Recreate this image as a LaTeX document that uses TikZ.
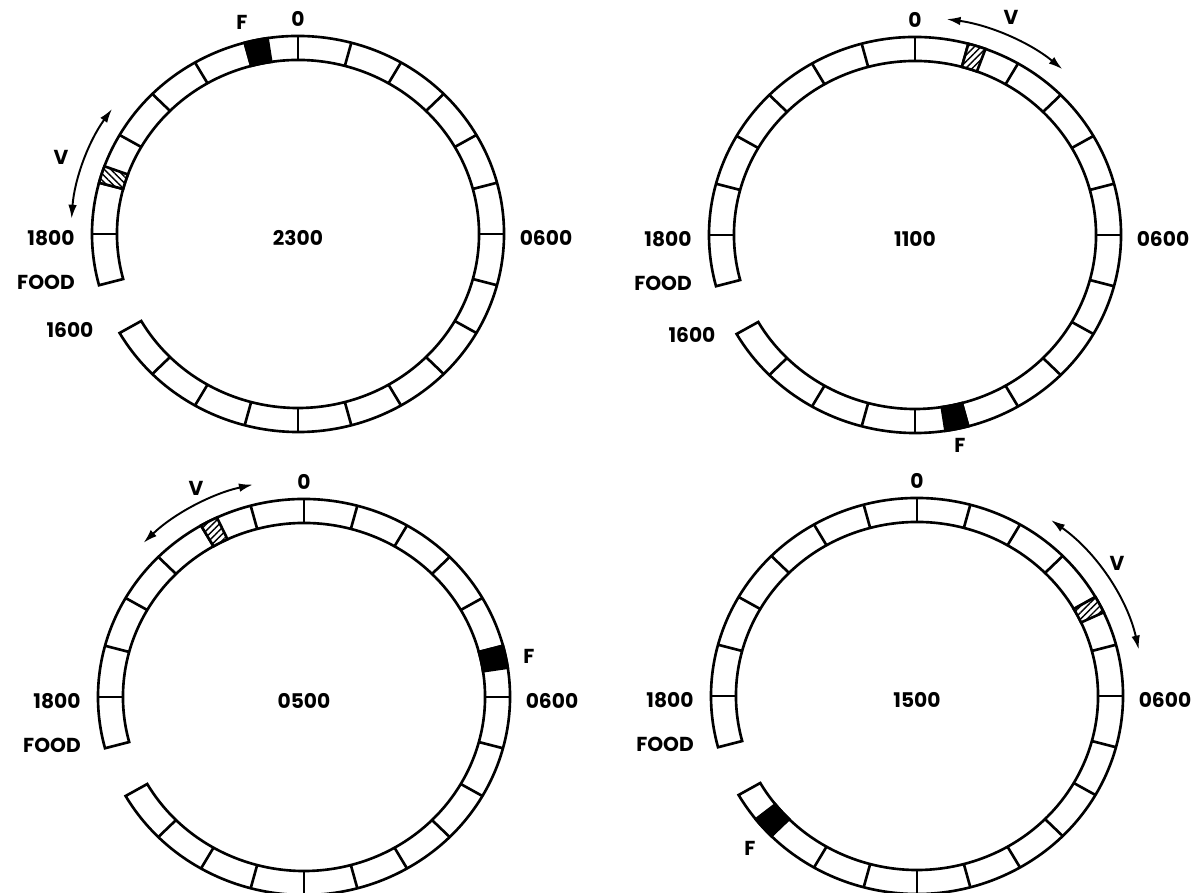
\documentclass[tikz,border=0pt]{standalone}
\usepackage{fontspec}
\newfontfamily\dialfont{Poppins}
\usetikzlibrary{arrows.meta,patterns.meta}
% one piece of the ring between two angles (inner 181/174, outer 206/198)
\newcommand\dialseg[3]{%
  \filldraw[#1] (#2:181 and 174) -- (#2:206 and 198)
    arc[start angle=#2,end angle=#3,x radius=206,y radius=198]
    -- (#3:181 and 174)
    arc[start angle=#3,end angle=#2,x radius=181,y radius=174] -- cycle;}
\tikzset{
  >={Latex[length=2.8mm,width=1.7mm]},
  ring/.style={line width=1.5pt,line join=miter},
  lbl/.style={font=\fontsize{11.5}{13}\selectfont\dialfont\bfseries,inner sep=0pt},
  food/.style={ring,fill=black},
  visit/.style={ring,fill=white,postaction={pattern={Lines[angle=#1,distance=2.6pt,line width=0.8pt]}}},
  visit/.default=45,
  vflow/.style={<->,line width=1.1pt},
}
\begin{document}
\begin{tikzpicture}[x=0.02cm,y=0.02cm]
  \useasboundingbox (0,0) rectangle (1199,892);
  % the four dials
  \foreach \nm/\cx/\cy/\hr in {tl/298/658/2300,tr/915/657/1100,bl/304/195/0500,br/917/196/1500} {
    \begin{scope}[shift={(\cx,\cy)}]
      \draw[ring] (210:206 and 198) arc[start angle=210,end angle=555,x radius=206,y radius=198]
        -- (555:181 and 174) arc[start angle=555,end angle=210,x radius=181,y radius=174] -- cycle;
      \foreach \a in {225,240,...,540} \draw[ring] (\a:181 and 174) -- (\a:206 and 198);
      \node[lbl] (\nm-mid) at (0,-4) {\hr};
      \node[lbl] (\nm-top) at (0,215) {0};
      \node[lbl] (\nm-left) at (-247,-4) {1800};
      \node[lbl] (\nm-right) at (248,-4) {0600};
      \node[lbl] (\nm-food) at (-252,-48) {FOOD};
    \end{scope}
  }
  % 2300
  \begin{scope}[shift={(298,658)}]
    \dialseg{food}{105}{98.5}
    \dialseg{visit=-45}{165}{160}
    \draw[vflow] (145:227 and 218) arc[start angle=145,end angle=176,x radius=227,y radius=218];
    \node[lbl] (tl-f) at (-56,212) {F};
    \node[lbl] (tl-v) at (-237,77) {V};
    \node[lbl] (tl-1600) at (-228,-96) {1600};
  \end{scope}
  % 1100
  \begin{scope}[shift={(915,657)}]
    \dialseg{food}{-75}{-81.5}
    \dialseg{visit}{75}{70}
    \draw[vflow] (82:227 and 218) arc[start angle=82,end angle=49.5,x radius=227,y radius=218];
    \node[lbl] (tr-f) at (45,-210) {F};
    \node[lbl] (tr-v) at (96,218) {V};
    \node[lbl] (tr-1600) at (-223,-100) {1600};
  \end{scope}
  % 0500
  \begin{scope}[shift={(304,195)}]
    \dialseg{food}{15}{8.5}
    \dialseg{visit}{120}{115}
    \draw[vflow] (135:227 and 218) arc[start angle=135,end angle=103,x radius=227,y radius=218];
    \node[lbl] (bl-f) at (225,41) {F};
    \node[lbl] (bl-v) at (-108,209) {V};
  \end{scope}
  % 1500
  \begin{scope}[shift={(917,196)}]
    \dialseg{food}{225}{218.5}
    \dialseg{visit}{30}{25}
    \draw[vflow] (53.8:227 and 218) arc[start angle=53.8,end angle=12.3,x radius=227,y radius=218];
    \node[lbl] (br-f) at (-167,-152) {F};
    \node[lbl] (br-v) at (200,133) {V};
  \end{scope}
\end{tikzpicture}
\end{document}
